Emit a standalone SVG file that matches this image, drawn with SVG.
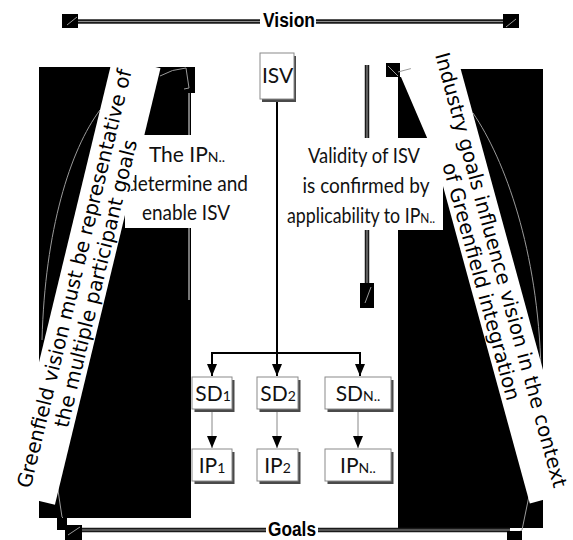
<svg xmlns="http://www.w3.org/2000/svg" width="573" height="540" viewBox="0 0 573 540">
<defs>
<style>
.blk{fill:#000}
.gl{fill:none;stroke:#9a9a9a;stroke-width:1}
.dbl{stroke:#1a1a1a;stroke-width:4.5;fill:none}
.dbli{stroke:#8c8c8c;stroke-width:1.2;fill:none}
.lbl{font-family:Lato,"Liberation Sans",sans-serif;font-size:21px;fill:#111}
.band{font-family:"DejaVu Sans",Verdana,sans-serif;font-size:20px;fill:#000}
.ttl{font-family:"Liberation Sans",Arial,sans-serif;font-size:20px;font-weight:bold;fill:#000}
.box{fill:#fff;stroke:#8a8a8a;stroke-width:1}
.shd{fill:#4a4a4a}
.sub{font-size:14px}
.con{stroke:#000;stroke-width:2;fill:none}
.con2{stroke:#888;stroke-width:1;fill:none}
.wht{fill:#fff}
</style>
<marker id="ah" viewBox="0 0 12 10" refX="12" refY="5" markerWidth="12" markerHeight="10" markerUnits="userSpaceOnUse" orient="auto">
<path d="M0,0 L12,5 L0,10 Z" fill="#000"/>
</marker>
</defs>
<rect width="573" height="540" fill="#fff"/>

<g id="vision">
<path class="dbl" d="M70,21.5 H512"/>
<path class="dbli" d="M70,21.5 H512"/>
<rect class="blk" x="62" y="14" width="16" height="14"/>
<path class="gl" d="M67,25 L77,17"/>
<rect class="blk" x="503" y="14" width="16" height="14"/>
<path class="gl" d="M506,27 L516,19"/>
<rect class="wht" x="260" y="6" width="56" height="30"/>
<text class="ttl" x="289" y="27" text-anchor="middle" textLength="52" lengthAdjust="spacingAndGlyphs">Vision</text>
</g>

<g id="left-arrow">
<path class="blk" d="M39,67 H195 V93 H191 V518 H39 Z"/>
<path d="M189,93 V300" stroke="#777" stroke-width="2" fill="none"/>
<path class="gl" d="M160,76 Q172,69 186,68 L189,88 L184,89"/>
<path class="gl" d="M100,110 C70,150 45,230 42,340"/>
<path class="gl" d="M55,470 L62,517 L67,522"/>
</g>

<g id="right-arrow">
<path class="blk" d="M398,77 H401 L428,140 L470,150 L459,69 H543 V528 H398 Z"/>
<rect class="blk" x="386" y="63" width="14" height="14"/>
<path class="gl" d="M388,66 L398,76 M398,72 L413,68"/>
<path class="gl" d="M473,113 C505,160 538,250 541,370 L541,440"/>
<path class="gl" d="M529,496 L522,530 L512,537"/>
</g>

<g id="validity-bar">
<path class="dbl" d="M367,65 V284" stroke-width="4"/>
<path class="dbli" d="M367,65 V284"/>
<rect class="blk" x="360" y="283" width="14" height="25"/>
<path class="gl" d="M365,303 L371,287"/>
</g>

<g id="text-left">
<rect class="wht" x="125" y="135" width="123" height="93"/>
<text class="lbl" x="187" y="162" text-anchor="middle">The IP<tspan class="sub">N..</tspan></text>
<text class="lbl" x="187.5" y="191" text-anchor="middle" textLength="121" lengthAdjust="spacingAndGlyphs">determine and</text>
<text class="lbl" x="186" y="220" text-anchor="middle" textLength="88" lengthAdjust="spacingAndGlyphs">enable ISV</text>
</g>

<g id="text-right">
<rect class="wht" x="285" y="138" width="158" height="92"/>
<text class="lbl" x="364" y="163" text-anchor="middle" textLength="112" lengthAdjust="spacingAndGlyphs">Validity of ISV</text>
<text class="lbl" x="366" y="193" text-anchor="middle" textLength="127" lengthAdjust="spacingAndGlyphs">is confirmed by</text>
<text class="lbl" x="361" y="223" text-anchor="middle" textLength="148" lengthAdjust="spacingAndGlyphs">applicability to IP<tspan class="sub">N..</tspan></text>
</g>

<g id="connectors">
<path class="con" d="M277,99 V376" marker-end="url(#ah)"/>
<path class="con" d="M212,353 H360"/>
<path class="con" d="M212,352 V376" marker-end="url(#ah)"/>
<path class="con" d="M360,352 V376" marker-end="url(#ah)"/>
<path class="con2" d="M212,412 V448" marker-end="url(#ah)"/>
<path class="con2" d="M277,412 V448" marker-end="url(#ah)"/>
<path class="con2" d="M358,412 V448" marker-end="url(#ah)"/>
</g>

<g id="ISV">
<rect class="shd" x="262" y="56" width="34" height="46"/>
<rect class="box" x="260" y="53" width="34" height="46"/>
<text class="lbl" x="277.5" y="83" text-anchor="middle">ISV</text>
</g>

<g id="SD1">
<rect class="shd" x="194.5" y="380" width="40" height="32"/>
<rect class="box" x="192" y="377" width="40" height="32"/>
<text class="lbl" x="213" y="401" text-anchor="middle">SD<tspan class="sub">1</tspan></text>
</g>
<g id="SD2">
<rect class="shd" x="259.5" y="380" width="41" height="32"/>
<rect class="box" x="257" y="377" width="41" height="32"/>
<text class="lbl" x="278" y="401" text-anchor="middle">SD<tspan class="sub">2</tspan></text>
</g>
<g id="SDN">
<rect class="shd" x="327.5" y="380" width="66" height="32"/>
<rect class="box" x="325" y="377" width="66" height="32"/>
<text class="lbl" x="358" y="401" text-anchor="middle">SD<tspan class="sub">N..</tspan></text>
</g>
<g id="IP1">
<rect class="shd" x="194.5" y="452" width="40" height="32"/>
<rect class="box" x="192" y="449" width="40" height="32"/>
<text class="lbl" x="212" y="473" text-anchor="middle">IP<tspan class="sub">1</tspan></text>
</g>
<g id="IP2">
<rect class="shd" x="259.5" y="452" width="41" height="32"/>
<rect class="box" x="257" y="449" width="41" height="32"/>
<text class="lbl" x="277.5" y="473" text-anchor="middle">IP<tspan class="sub">2</tspan></text>
</g>
<g id="IPN">
<rect class="shd" x="327.5" y="452" width="66" height="32"/>
<rect class="box" x="325" y="449" width="66" height="32"/>
<text class="lbl" x="358" y="473" text-anchor="middle">IP<tspan class="sub">N..</tspan></text>
</g>

<g id="banner-left" transform="translate(83.9,280.8) rotate(-76.4)">
<rect class="wht" x="-224.5" y="-24.5" width="449" height="49"/>
<text class="band" x="0" y="-3" text-anchor="middle" textLength="430" lengthAdjust="spacingAndGlyphs">Greenfield vision must be representative of</text>
<text class="band" x="0" y="19" text-anchor="middle">the multiple participant goals</text>
</g>

<g id="banner-right" transform="translate(491.5,272.5) rotate(74.7)">
<rect class="wht" x="-233" y="-24" width="466" height="48"/>
<text class="band" x="0" y="-3" text-anchor="middle" textLength="450" lengthAdjust="spacingAndGlyphs">Industry goals influence vision in the context</text>
<text class="band" x="6" y="19" text-anchor="middle">of Greenfield integration</text>
</g>

<g id="goals">
<path class="dbl" d="M80,530 H510"/>
<path class="dbli" d="M80,530 H510"/>
<path class="blk" d="M57,518 H67 V525 H82 V540 H65 V530 H57 Z"/>
<path class="gl" d="M68,535 L80,527"/>
<rect class="blk" x="507" y="531" width="15" height="9"/>
<rect class="wht" x="266" y="516" width="52" height="24"/>
<text class="ttl" x="292" y="536" text-anchor="middle" textLength="48" lengthAdjust="spacingAndGlyphs">Goals</text>
</g>
</svg>
